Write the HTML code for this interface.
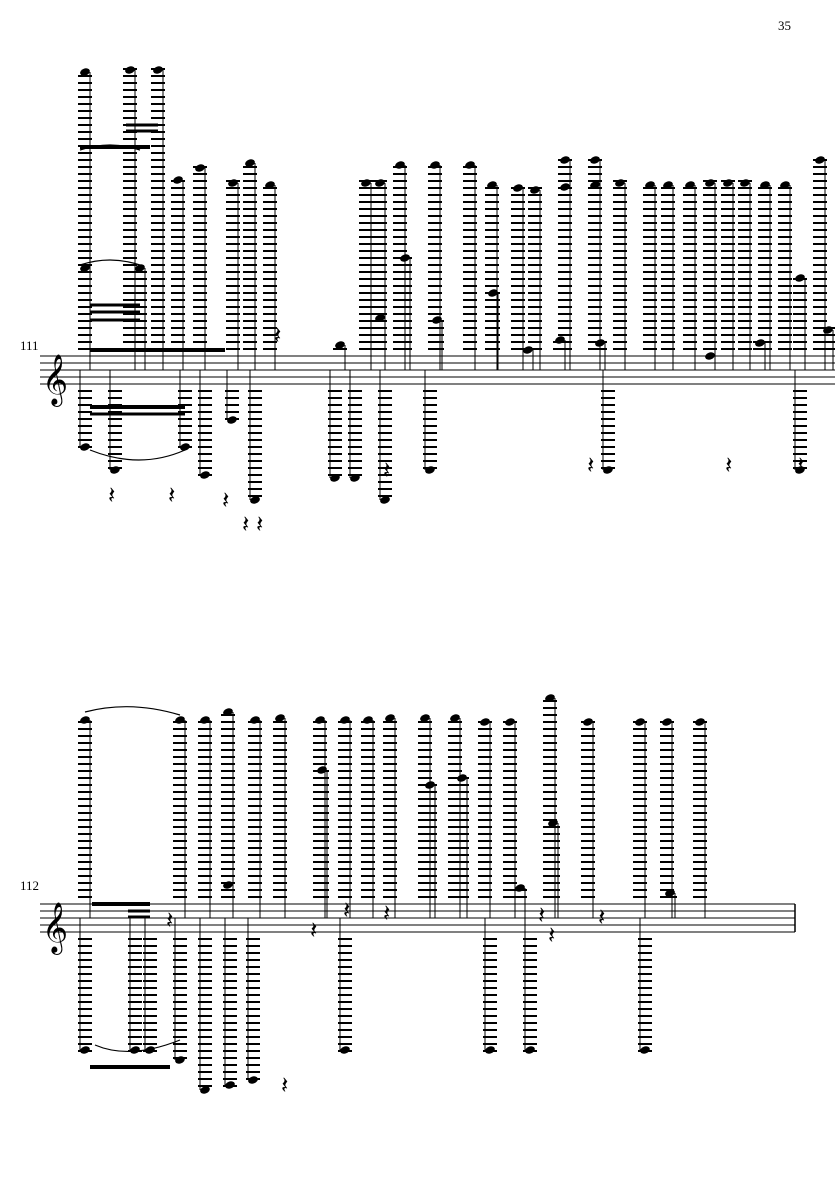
<!DOCTYPE html>
<html><head><meta charset="utf-8"><style>
body{margin:0;background:#fff;width:835px;height:1181px;overflow:hidden}
svg{position:absolute;left:0;top:0}
.t{font-family:"Liberation Serif",serif;font-size:13px}
</style></head><body>
<svg id="s" width="835" height="1181" xmlns="http://www.w3.org/2000/svg">
<text class="t" x="778" y="30">35</text>
<text class="t" x="20" y="350" font-size="11">111</text>
<text class="t" x="20" y="890" font-size="11">112</text>
<g id="g" stroke="#000" fill="#000"></g>
</svg>
<script>
var g=document.getElementById('g'),h='';
function L(x1,y1,x2,y2,w){h+='<line x1="'+x1+'" y1="'+y1+'" x2="'+x2+'" y2="'+y2+'" stroke-width="'+(w||1)+'"/>';}
function N(x,y){h+='<ellipse cx="'+x+'" cy="'+y+'" rx="5" ry="3.5" transform="rotate(-20 '+x+' '+y+')" stroke="none"/>';}
function staff(y0,x1,x2){for(var i=0;i<5;i++)L(x1,y0+i*7,x2,y0+i*7,1);}
function clef(x,y){h+='<text x="'+x+'" y="'+y+'" font-family="DejaVu Sans" font-size="44" stroke="none">𝄞</text>';}
function up(x,y,top){for(var yy=top-7;yy>y-3;yy-=7)L(x-7,yy,x+7,yy,2);N(x,y);L(x+5,y,x+5,top+14,1);}
function dn(x,y,bot){for(var yy=bot+7;yy<y+3;yy+=7)L(x-7,yy,x+7,yy,2);N(x,y);L(x-5,y,x-5,bot-14,1);}
function rest(x,y){h+='<text x="'+x+'" y="'+y+'" font-family="DejaVu Sans" font-size="24" stroke="none">𝄽</text>';}
staff(356,40,835);staff(904,40,795);L(795,904,795,932,1.5);
clef(42,394);clef(42,942);
var A=[[85,72],[130,70],[158,70],[85,268],[140,268],[178,180],[200,168],[233,183],[250,163],[270,185],[366,183],[380,183],[400,165],[435,165],[470,165],[492,185],[518,188],[535,190],[565,160],[565,187],[595,160],[595,185],[620,183],[650,185],[668,185],[690,185],[710,183],[728,183],[745,183],[765,185],[785,185],[820,160],[380,318],[405,258],[437,320],[493,293],[800,278],[828,330],[528,350],[560,340],[600,343],[710,356],[760,343],[340,345]];
A.forEach(function(a){up(a[0],a[1],356);});
var B=[[85,447],[115,470],[185,447],[205,475],[255,500],[335,478],[355,478],[385,500],[430,470],[232,420],[608,470],[800,470]];
B.forEach(function(a){dn(a[0],a[1],384);});
L(80,147,150,147,4);L(126,125,158,125,3);L(126,131,158,131,3);L(90,305,140,305,3);L(90,312,140,312,3);L(90,320,140,320,3);
L(90,350,225,350,4);L(90,407,185,407,4);L(90,414,185,414,3);
var C=[[85,720],[180,720],[205,720],[228,712],[255,720],[280,718],[320,720],[345,720],[368,720],[390,718],[425,718],[455,718],[485,722],[510,722],[550,698],[588,722],[640,722],[667,722],[700,722],[322,770],[228,885],[430,785],[462,778],[520,888],[553,823],[670,893]];
C.forEach(function(a){up(a[0],a[1],904);});
var D=[[85,1050],[135,1050],[150,1050],[205,1090],[230,1085],[253,1080],[345,1050],[490,1050],[530,1050],[645,1050],[180,1060]];
D.forEach(function(a){dn(a[0],a[1],932);});
L(90,1067,170,1067,4);L(92,904,150,904,4);L(128,911,150,911,3);L(128,917,150,917,3);
[[108,503],[168,503],[222,508],[242,532],[256,532],[274,343],[383,478],[587,473],[725,473],[797,473],[598,925],[538,923],[310,938],[343,918],[383,921],[166,928],[548,943],[281,1093]].forEach(function(a){rest(a[0],a[1]);});
h+='<path d="M80,150 Q110,140 140,150 M80,265 Q110,255 140,265 M90,450 Q140,470 185,450 M95,1045 Q130,1060 180,1040 M85,712 Q130,700 180,715" fill="none" stroke-width="1.2"/>';
g.innerHTML=h;
</script>
</body></html>
